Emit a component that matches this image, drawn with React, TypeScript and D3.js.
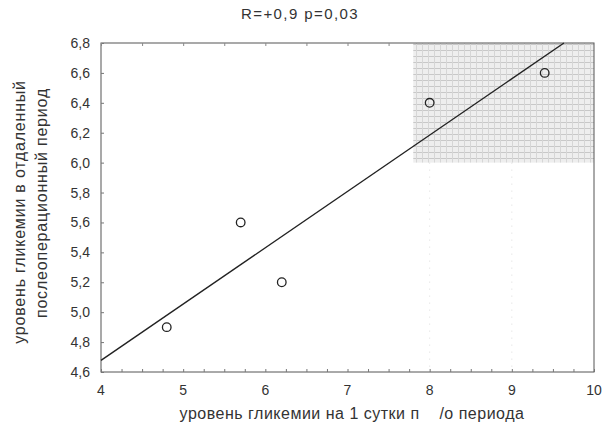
import React, { useEffect, useRef } from "react";
import * as d3 from "d3";

const xValues = [4.8, 5.7, 6.2, 8.0, 9.4];
const yValues = [4.9, 5.6, 5.2, 6.4, 6.6];
const xTicks = [4, 5, 6, 7, 8, 9, 10];
const yTicks = [4.6, 4.8, 5.0, 5.2, 5.4, 5.6, 5.8, 6.0, 6.2, 6.4, 6.6, 6.8];
const shadeX = [7.8, 10];
const shadeY = [6.0, 6.8];
const title = "R=+0,9 p=0,03";
const xTitle = "уровень гликемии на 1 сутки п    /о периода";
const yTitle = ["уровень гликемии в отдаленный", "послеоперационный период"];

const App = () => {
  const ref = useRef<SVGSVGElement>(null);

  useEffect(() => {
    const svg = d3.select(ref.current);
    svg.selectAll("*").remove();
    const W = 605;
    const H = 432;
    const m = { top: 43, right: 11, bottom: 60, left: 101 };
    const font = "Liberation Sans, Arial, sans-serif";

    svg.attr("width", W).attr("height", H);

    const x = d3.scaleLinear().domain([4, 10]).range([m.left, W - m.right]);
    const y = d3.scaleLinear().domain([4.6, 6.8]).range([H - m.bottom, m.top]);

    // dotted shaded pattern
    const defs = svg.append("defs");
    const pat = defs
      .append("pattern")
      .attr("id", "dots")
      .attr("patternUnits", "userSpaceOnUse")
      .attr("width", 6)
      .attr("height", 6);
    pat.append("rect").attr("width", 6).attr("height", 6).attr("fill", "#eeeeee");
    pat.append("rect").attr("x", 0).attr("y", 2).attr("width", 6).attr("height", 1).attr("fill", "#c8c8c8");
    pat.append("rect").attr("x", 2).attr("y", 0).attr("width", 1).attr("height", 6).attr("fill", "#d6d6d6");

    svg
      .append("rect")
      .attr("x", x(shadeX[0]))
      .attr("y", y(shadeY[1]))
      .attr("width", x(shadeX[1]) - x(shadeX[0]))
      .attr("height", y(shadeY[0]) - y(shadeY[1]))
      .attr("fill", "url(#dots)");

    // faint dotted grid lines below shaded area
    svg
      .selectAll(".vgrid")
      .data([8, 9])
      .enter()
      .append("line")
      .attr("x1", (d) => x(d))
      .attr("x2", (d) => x(d))
      .attr("y1", y(shadeY[0]))
      .attr("y2", y(4.6))
      .attr("stroke", "#dcdcdc")
      .attr("stroke-dasharray", "1,6");

    // frame
    svg
      .append("rect")
      .attr("x", x(4))
      .attr("y", y(6.8))
      .attr("width", x(10) - x(4))
      .attr("height", y(4.6) - y(6.8))
      .attr("fill", "none")
      .attr("stroke", "#555")
      .attr("stroke-width", 1);

    // axes with inward ticks
    const xAxis = svg
      .append("g")
      .attr("transform", `translate(0,${y(4.6)})`)
      .call(
        d3
          .axisBottom(x)
          .tickValues(d3.range(4, 10.01, 0.25))
          .tickSize(-3)
          .tickFormat(() => "")
      );
    xAxis.select(".domain").remove();
    xAxis.selectAll("line").attr("stroke", "#777");

    const yAxis = svg
      .append("g")
      .attr("transform", `translate(${x(4)},0)`)
      .call(d3.axisLeft(y).tickValues(yTicks).tickSize(-3).tickFormat(() => ""));
    yAxis.select(".domain").remove();
    yAxis.selectAll("line").attr("stroke", "#777");

    const topAxis = svg
      .append("g")
      .attr("transform", `translate(0,${y(6.8)})`)
      .call(d3.axisTop(x).tickValues(d3.range(4, 7.8, 0.5)).tickSize(-3).tickFormat(() => ""));
    topAxis.select(".domain").remove();
    topAxis.selectAll("line").attr("stroke", "#888");

    // tick labels
    svg
      .selectAll(".xl")
      .data(xTicks)
      .enter()
      .append("text")
      .attr("x", (d) => x(d))
      .attr("y", y(4.6) + 23)
      .attr("text-anchor", "middle")
      .attr("font-family", font)
      .attr("font-size", 14)
      .attr("fill", "#333")
      .text((d) => String(d));

    svg
      .selectAll(".yl")
      .data(yTicks)
      .enter()
      .append("text")
      .attr("x", x(4) - 11)
      .attr("y", (d) => y(d) + 5)
      .attr("text-anchor", "end")
      .attr("font-family", font)
      .attr("font-size", 14)
      .attr("fill", "#333")
      .text((d) => d.toFixed(1).replace(".", ","));

    // regression line
    const mx = d3.mean(xValues) as number;
    const my = d3.mean(yValues) as number;
    const sxy = d3.sum(xValues, (v, i) => (v - mx) * (yValues[i] - my));
    const sxx = d3.sum(xValues, (v) => (v - mx) * (v - mx));
    const slope = sxy / sxx;
    const icpt = my - slope * mx;
    const xEnd = Math.min(10, (6.8 - icpt) / slope);
    const line = d3
      .line<number>()
      .x((d) => x(d))
      .y((d) => y(icpt + slope * d));
    svg
      .append("path")
      .attr("d", line([4, xEnd]))
      .attr("fill", "none")
      .attr("stroke", "#222")
      .attr("stroke-width", 1.4);

    // points
    svg
      .selectAll(".pt")
      .data(xValues)
      .enter()
      .append("circle")
      .attr("cx", (d) => x(d))
      .attr("cy", (d, i) => y(yValues[i]))
      .attr("r", 4.3)
      .attr("fill", "none")
      .attr("stroke", "#222")
      .attr("stroke-width", 1.3);

    // titles
    svg
      .append("text")
      .attr("x", 300)
      .attr("y", 19)
      .attr("text-anchor", "middle")
      .attr("font-family", font)
      .attr("font-size", 15)
      .attr("letter-spacing", 1.4)
      .attr("fill", "#333")
      .text(title);

    svg
      .append("text")
      .attr("x", 352)
      .attr("y", 419)
      .attr("text-anchor", "middle")
      .attr("font-family", font)
      .attr("font-size", 16)
      .attr("letter-spacing", 0.5)
      .attr("fill", "#333")
      .style("white-space", "pre")
      .text(xTitle);

    yTitle.forEach((t, i) => {
      svg
        .append("text")
        .attr("transform", `translate(${25 + i * 22},${212 - i * 9}) rotate(-90)`)
        .attr("text-anchor", "middle")
        .attr("font-family", font)
        .attr("font-size", 16)
        .attr("letter-spacing", 0.8)
        .attr("fill", "#333")
        .text(t);
    });
  }, []);

  return <svg ref={ref} style={{ position: "absolute", left: 0, top: 0 }} />;
};

export default App;
